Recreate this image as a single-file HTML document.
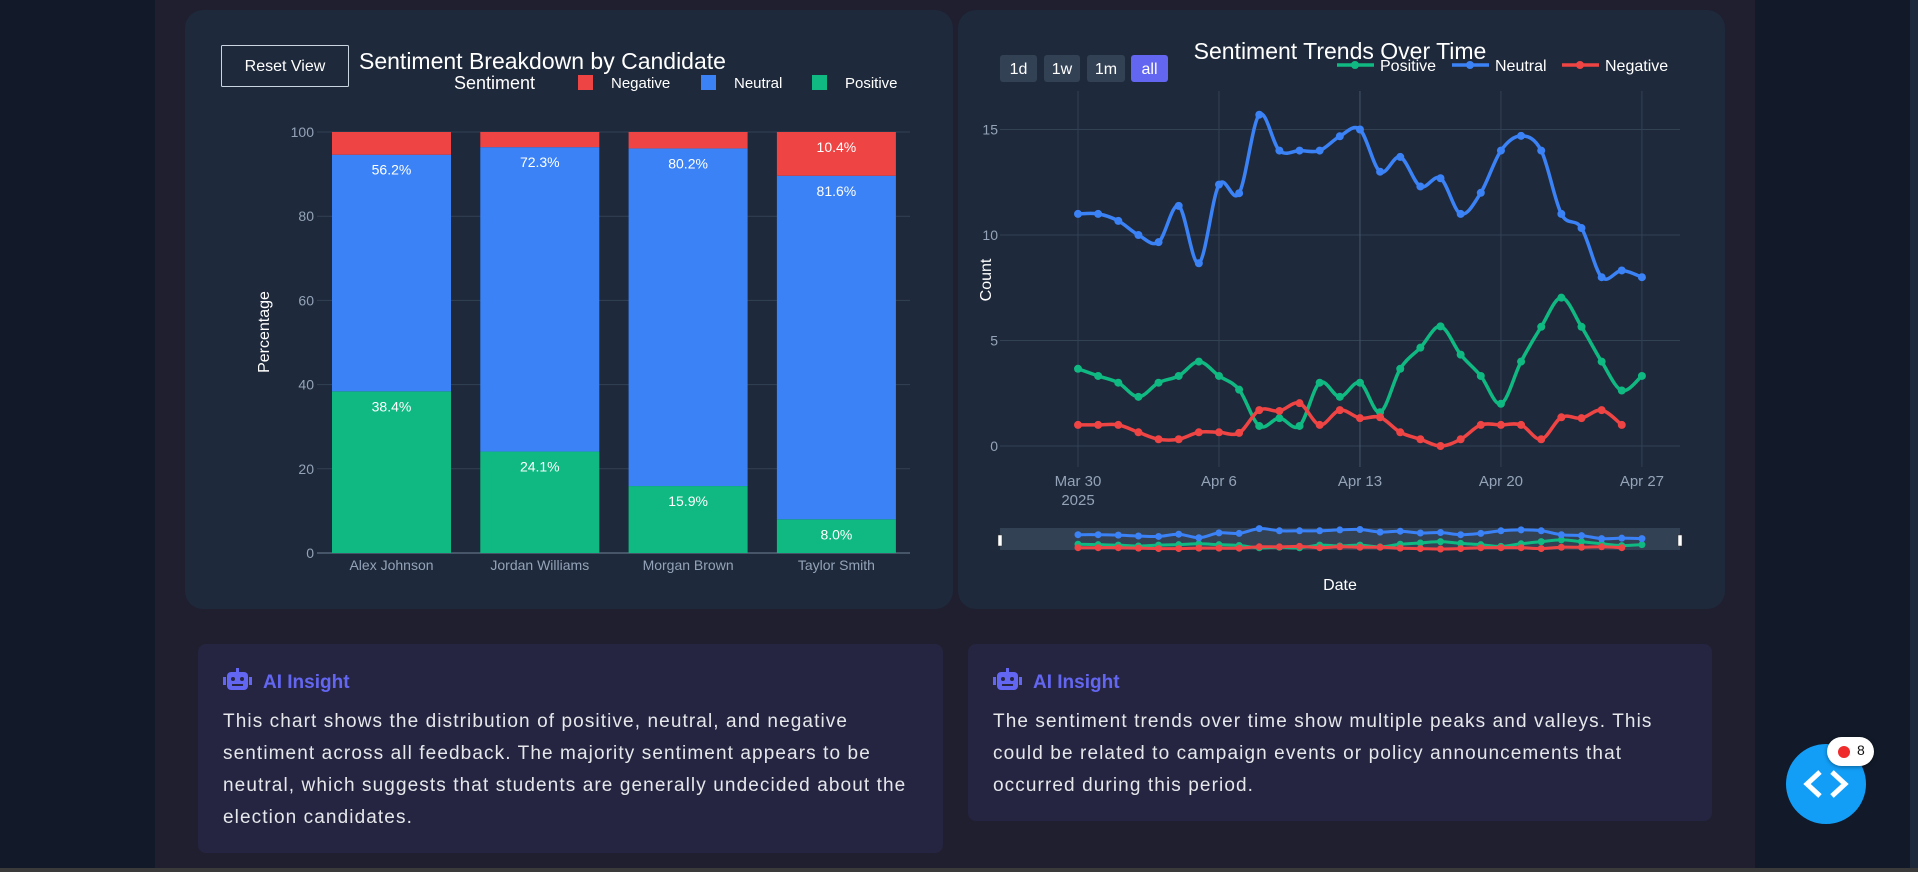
<!DOCTYPE html>
<html><head><meta charset="utf-8">
<style>
*{margin:0;padding:0;box-sizing:border-box}
body{width:1918px;height:872px;overflow:hidden;background:#121a29;font-family:"Liberation Sans",sans-serif;position:relative}
#col{position:absolute;left:155px;top:0;width:1600px;height:868px;background:#1f1f2f}
.card{position:absolute;background:#1e293b;border-radius:18px}
.ins{position:absolute;background:#262541;border-radius:8px;color:#e5e7eb;font-size:19px;line-height:32px}
.ins h3{position:absolute;left:65px;top:23px;font-size:19px;color:#6366f1;font-weight:bold}
.ins p{position:absolute;left:25px;top:62px;white-space:nowrap;letter-spacing:1.1px}
svg text{font-family:"Liberation Sans",sans-serif}
</style></head><body>
<div id="col"></div>
<div style="position:absolute;left:1910px;top:0;width:8px;height:868px;background:#1e293b"></div>
<div style="position:absolute;left:0;top:868px;width:1918px;height:4px;background:#3a3a3a"></div>
<div class="card" style="left:185px;top:10px;width:768px;height:599px"></div>
<div class="card" style="left:958px;top:10px;width:767px;height:599px"></div>
<svg id="svg" width="1918" height="872" style="position:absolute;left:0;top:0"></svg>

<div class="ins" style="left:198px;top:644px;width:745px;height:209px">
<svg style="position:absolute;left:25px;top:24px" width="29" height="22" viewBox="0 0 29 22"><rect x="4" y="4" width="21" height="18" rx="4" fill="#6366f1"/><rect x="13" y="0" width="3" height="5" fill="#6366f1"/><rect x="0" y="9" width="3" height="8" fill="#6366f1"/><rect x="26" y="9" width="3" height="8" fill="#6366f1"/><circle cx="10" cy="11" r="2" fill="#262541"/><circle cx="19" cy="11" r="2" fill="#262541"/><rect x="9" y="16" width="11" height="2" fill="#262541"/></svg>
<h3>AI Insight</h3>
<p>This chart shows the distribution of positive, neutral, and negative<br>sentiment across all feedback. The majority sentiment appears to be<br>neutral, which suggests that students are generally undecided about the<br>election candidates.</p>
</div>
<div class="ins" style="left:968px;top:644px;width:744px;height:177px">
<svg style="position:absolute;left:25px;top:24px" width="29" height="22" viewBox="0 0 29 22"><rect x="4" y="4" width="21" height="18" rx="4" fill="#6366f1"/><rect x="13" y="0" width="3" height="5" fill="#6366f1"/><rect x="0" y="9" width="3" height="8" fill="#6366f1"/><rect x="26" y="9" width="3" height="8" fill="#6366f1"/><circle cx="10" cy="11" r="2" fill="#262541"/><circle cx="19" cy="11" r="2" fill="#262541"/><rect x="9" y="16" width="11" height="2" fill="#262541"/></svg>
<h3>AI Insight</h3>
<p>The sentiment trends over time show multiple peaks and valleys. This<br>could be related to campaign events or policy announcements that<br>occurred during this period.</p>
</div>

<div style="position:absolute;left:1786px;top:744px;width:80px;height:80px;border-radius:50%;background:#129ef7">
<svg width="80" height="80"><polyline points="34,28 21,40 34,52" fill="none" stroke="#fff" stroke-width="5"/><polyline points="46,28 59,40 46,52" fill="none" stroke="#fff" stroke-width="5"/></svg></div>
<div style="position:absolute;left:1827px;top:737px;width:47px;height:29px;border-radius:15px;background:#fff;box-shadow:0 1px 4px rgba(0,0,0,.4)">
<div style="position:absolute;left:11px;top:9px;width:12px;height:12px;border-radius:50%;background:#ef2b2b"></div>
<div style="position:absolute;left:30px;top:5px;font-size:14px;color:#111">8</div></div>

<script>
// ---------- bar chart data ----------
const candidates=["Alex Johnson","Jordan Williams","Morgan Brown","Taylor Smith"];
const positive=[38.4,24.1,15.9,8.0];
const neutral=[56.2,72.3,80.2,81.6];
const negative=[5.4,3.6,3.9,10.4];
const barTicks=[0,20,40,60,80,100];
// ---------- line chart data ----------
const dayLabels=["Mar 30","Apr 6","Apr 13","Apr 20","Apr 27"];
const tickDays=[0,7,14,21,28];
const countTicks=[0,5,10,15];
const posSeries=[3.66,3.32,3,2.33,3,3.32,4,3.32,2.67,0.95,1.32,0.95,3,2.33,3,1.6,3.66,4.66,5.67,4.33,3.32,2,4,5.65,7.03,5.65,4,2.63,3.32];
const neuSeries=[11,11,10.67,10,9.66,11.38,8.66,12.39,11.98,15.7,14,14,14,14.68,15,13,13.7,12.3,12.69,11,12,14,14.7,14,11,10.33,8,8.32,8];
const negSeries=[1,1,1,0.65,0.32,0.32,0.65,0.65,0.62,1.7,1.66,2.03,1,1.7,1.32,1.36,0.65,0.32,0,0.32,1,1,1,0.32,1.36,1.32,1.7,1];

const svg=document.getElementById('svg');const NS='http://www.w3.org/2000/svg';
function mk(tag,attrs,parent){const e=document.createElementNS(NS,tag);for(const k in attrs)e.setAttribute(k,attrs[k]);(parent||svg).appendChild(e);return e;}
function txt(s,attrs){const e=mk('text',attrs);e.textContent=s;return e;}

// bar axes
const by=v=>553-v*4.21;
const bx=i=>391.5+i*148.3;
const BW=119;
barTicks.forEach(t=>{
  const g=mk('line',{x1:317,x2:910,y1:by(t),y2:by(t),stroke:t===0?'#475569':'#334155','stroke-width':t===0?2:1});
  
  const l=txt(String(t),{x:314,y:by(t)+5,fill:'#94a3b8','font-size':14,'text-anchor':'end'});
  
});
candidates.forEach((c,i)=>{
  const segs=[[positive[i],'#10b981'],[neutral[i],'#3b82f6'],[negative[i],'#ef4444']];
  let base=0;
  segs.forEach((s,k)=>{
    const r=mk('rect',{x:bx(i)-BW/2,y:by(base+s[0]),width:BW,height:s[0]*4.21,fill:s[1]});
    
    
    if(k<2||s[0]>8){const t=txt(s[0].toFixed(1)+'%',{x:bx(i),y:by(base+s[0])+20,fill:'#fff','font-size':14,'text-anchor':'middle'});
      }
    base+=s[0];
  });
  const xl=txt(c,{x:bx(i),y:570,fill:'#94a3b8','font-size':14,'text-anchor':'middle'});
  
});
let t1=txt('Percentage',{x:0,y:0,fill:'#fff','font-size':16,'text-anchor':'middle',transform:'translate(269,332) rotate(-90)'});

let rb=mk('rect',{x:221.5,y:45.5,width:127,height:41,fill:'none',stroke:'#cbd5e1','stroke-width':1,rx:1});

txt('Reset View',{x:285,y:71,fill:'#fff','font-size':16,'text-anchor':'middle'});
let bt=txt('Sentiment Breakdown by Candidate',{x:359,y:69,fill:'#fff','font-size':23});

txt('Sentiment',{x:454,y:89,fill:'#fff','font-size':18});
[['Negative','#ef4444',578],['Neutral','#3b82f6',701],['Positive','#10b981',812]].forEach(l=>{
  const r=mk('rect',{x:l[2],y:75,width:15,height:15,fill:l[1]});
  
  const t=txt(l[0],{x:l[2]+33,y:88,fill:'#fff','font-size':15});
  
});

// line chart axes
const lx=d=>1078+d*20.14;
const ly=v=>446-v*21.1;
countTicks.forEach(t=>{
  const g=mk('line',{x1:1000,x2:1680,y1:ly(t),y2:ly(t),stroke:'#334155','stroke-width':1});
  
  const l=txt(String(t),{x:998,y:ly(t)+5,fill:'#94a3b8','font-size':14,'text-anchor':'end'});
  
});
tickDays.forEach((d,i)=>{
  const g=mk('line',{x1:lx(d),x2:lx(d),y1:91,y2:467,stroke:d===14?'#475569':'#334155','stroke-width':1});
  
  const l=txt(dayLabels[i],{x:lx(d),y:486,fill:'#94a3b8','font-size':15,'text-anchor':'middle'});
  
});
txt('2025',{x:lx(0),y:505,fill:'#94a3b8','font-size':15,'text-anchor':'middle'});
function spline(pts){let d='M'+pts[0][0]+','+pts[0][1];
  for(let i=0;i<pts.length-1;i++){const p0=pts[i-1]||pts[i],p1=pts[i],p2=pts[i+1],p3=pts[i+2]||p2;
    d+=' C'+(p1[0]+(p2[0]-p0[0])/6)+','+(p1[1]+(p2[1]-p0[1])/6)+' '+(p2[0]-(p3[0]-p1[0])/6)+','+(p2[1]-(p3[1]-p1[1])/6)+' '+p2[0]+','+p2[1];}
  return d;}
const series=[['positive',posSeries,'#10b981'],['neutral',neuSeries,'#3b82f6'],['negative',negSeries,'#ef4444']];
// range slider
let rs=mk('rect',{x:1000,y:528,width:680,height:22,fill:'#334155'});

[1000,1680].forEach(x=>{const h=mk('rect',{x:x-2,y:535,width:4,height:11,fill:'#fff',stroke:'#333','stroke-width':0.5});
  });
const sy=v=>549-v*1.3;
series.forEach(s=>{
  const pts=s[1].map((v,i)=>[lx(i),sy(v)]);
  const p=mk('path',{d:spline(pts),fill:'none',stroke:s[2],'stroke-width':3});
  
  pts.forEach(q=>{const c=mk('circle',{cx:q[0],cy:q[1],r:3.5,fill:s[2]});
    });
});
series.forEach(s=>{
  const pts=s[1].map((v,i)=>[lx(i),ly(v)]);
  const p=mk('path',{d:spline(pts),fill:'none',stroke:s[2],'stroke-width':3.5});
  
  pts.forEach(q=>{const c=mk('circle',{cx:q[0],cy:q[1],r:4,fill:s[2]});
    });
});
let ct=txt('Count',{x:0,y:0,fill:'#fff','font-size':16,'text-anchor':'middle',transform:'translate(991,280) rotate(-90)'});

let dt=txt('Date',{x:1340,y:590,fill:'#fff','font-size':16,'text-anchor':'middle'});

[['1d',1000,37,'#334155'],['1w',1044,36,'#334155'],['1m',1087,38,'#334155'],['all',1131,37,'#6366f1']].forEach(b=>{
  const r=mk('rect',{x:b[1],y:55,width:b[2],height:27,rx:3,fill:b[3]});
  
  txt(b[0],{x:b[1]+b[2]/2,y:74,fill:'#fff','font-size':16,'text-anchor':'middle'});
});
let lt=txt('Sentiment Trends Over Time',{x:1340,y:59,fill:'#fff','font-size':23,'text-anchor':'middle'});

[['Positive','#10b981',1337],['Neutral','#3b82f6',1452],['Negative','#ef4444',1562]].forEach(l=>{
  const g=mk('line',{x1:l[2],x2:l[2]+37,y1:65,y2:65,stroke:l[1],'stroke-width':3.5});
  
  mk('circle',{cx:l[2]+18,cy:65,r:4,fill:l[1]});
  const t=txt(l[0],{x:l[2]+43,y:71,fill:'#fff','font-size':16});
  
});
</script>
</body></html>
